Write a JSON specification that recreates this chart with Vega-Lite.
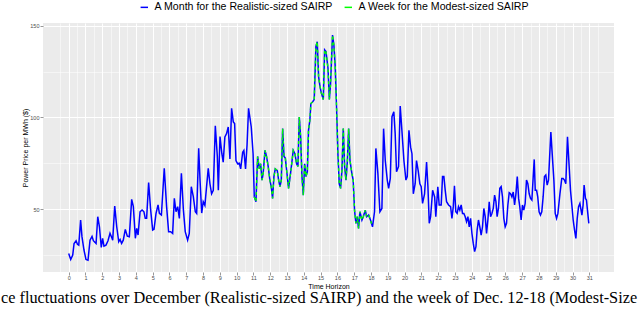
{
  "$schema": "https://vega.github.io/schema/vega-lite/v6.json",
  "width": 571,
  "height": 249,
  "autosize": {"type": "none"},
  "padding": {"left": 43, "top": 23, "right": 26, "bottom": 41},
  "background": "white",
  "config": {
    "view": {"fill": "#EBEBEB", "stroke": null},
    "font": "Liberation Sans"
  },
  "title": {
    "text": "ce fluctuations over December (Realistic-sized SAIRP) and the week of Dec. 12-18 (Modest-Size",
    "orient": "bottom",
    "anchor": "start",
    "frame": "group",
    "font": "Liberation Serif",
    "fontSize": 16.3,
    "fontWeight": "normal",
    "color": "black",
    "dx": -42,
    "offset": 1
  },
  "data": {
    "values": [
      {"day": 0.00, "price": 25.7}, {"day": 0.12, "price": 22.4}, {"day": 0.24, "price": 24.8}, {"day": 0.32, "price": 31.2},
      {"day": 0.44, "price": 32.7}, {"day": 0.52, "price": 30.8}, {"day": 0.60, "price": 30.3}, {"day": 0.71, "price": 44.0},
      {"day": 0.79, "price": 34.9}, {"day": 0.91, "price": 27.6}, {"day": 1.03, "price": 22.4}, {"day": 1.15, "price": 22.0},
      {"day": 1.27, "price": 33.0}, {"day": 1.39, "price": 35.0}, {"day": 1.47, "price": 32.7}, {"day": 1.63, "price": 31.2},
      {"day": 1.73, "price": 45.8}, {"day": 1.83, "price": 40.3}, {"day": 1.94, "price": 29.0}, {"day": 2.02, "price": 34.0},
      {"day": 2.10, "price": 29.7}, {"day": 2.22, "price": 30.3}, {"day": 2.34, "price": 32.7}, {"day": 2.46, "price": 36.7},
      {"day": 2.58, "price": 34.0}, {"day": 2.62, "price": 33.0}, {"day": 2.74, "price": 51.6}, {"day": 2.86, "price": 40.3},
      {"day": 2.98, "price": 32.1}, {"day": 3.06, "price": 33.4}, {"day": 3.15, "price": 31.2}, {"day": 3.25, "price": 33.0},
      {"day": 3.37, "price": 38.9}, {"day": 3.49, "price": 35.2}, {"day": 3.61, "price": 34.9}, {"day": 3.75, "price": 55.3},
      {"day": 3.85, "price": 51.3}, {"day": 3.97, "price": 34.0}, {"day": 4.05, "price": 39.4}, {"day": 4.13, "price": 35.8},
      {"day": 4.25, "price": 48.5}, {"day": 4.37, "price": 49.5}, {"day": 4.48, "price": 48.5}, {"day": 4.56, "price": 44.9},
      {"day": 4.64, "price": 44.9}, {"day": 4.76, "price": 64.4}, {"day": 4.88, "price": 49.5}, {"day": 5.00, "price": 38.5},
      {"day": 5.08, "price": 38.9}, {"day": 5.20, "price": 47.6}, {"day": 5.32, "price": 52.2}, {"day": 5.40, "price": 47.6},
      {"day": 5.52, "price": 46.7}, {"day": 5.69, "price": 72.3}, {"day": 5.83, "price": 51.3}, {"day": 5.95, "price": 37.6},
      {"day": 6.07, "price": 37.6}, {"day": 6.19, "price": 36.7}, {"day": 6.29, "price": 55.8}, {"day": 6.39, "price": 48.5},
      {"day": 6.49, "price": 51.3}, {"day": 6.59, "price": 44.9}, {"day": 6.71, "price": 69.5}, {"day": 6.83, "price": 49.5},
      {"day": 6.94, "price": 37.6}, {"day": 7.08, "price": 33.0}, {"day": 7.18, "price": 36.7}, {"day": 7.30, "price": 62.2},
      {"day": 7.42, "price": 56.8}, {"day": 7.54, "price": 48.5}, {"day": 7.62, "price": 47.6}, {"day": 7.74, "price": 83.2},
      {"day": 7.82, "price": 65.8}, {"day": 7.92, "price": 47.8}, {"day": 8.01, "price": 54.0}, {"day": 8.11, "price": 52.0},
      {"day": 8.21, "price": 62.2}, {"day": 8.31, "price": 72.2}, {"day": 8.41, "price": 63.8}, {"day": 8.51, "price": 58.3},
      {"day": 8.61, "price": 60.2}, {"day": 8.73, "price": 95.4}, {"day": 8.85, "price": 78.7}, {"day": 8.91, "price": 60.2},
      {"day": 9.01, "price": 89.6}, {"day": 9.12, "price": 80.2}, {"day": 9.20, "price": 75.6}, {"day": 9.30, "price": 89.4},
      {"day": 9.40, "price": 91.2}, {"day": 9.50, "price": 94.8}, {"day": 9.60, "price": 77.4}, {"day": 9.70, "price": 105.0},
      {"day": 9.80, "price": 97.6}, {"day": 9.88, "price": 96.7}, {"day": 9.96, "price": 76.5}, {"day": 10.06, "price": 74.7},
      {"day": 10.16, "price": 75.0}, {"day": 10.24, "price": 71.9}, {"day": 10.36, "price": 81.0}, {"day": 10.43, "price": 82.0},
      {"day": 10.53, "price": 71.9}, {"day": 10.62, "price": 85.0}, {"day": 10.71, "price": 105.0}, {"day": 10.87, "price": 94.8},
      {"day": 10.98, "price": 80.2}, {"day": 11.05, "price": 56.7}, {"day": 11.15, "price": 54.0}, {"day": 11.25, "price": 78.7},
      {"day": 11.35, "price": 71.9}, {"day": 11.43, "price": 74.7}, {"day": 11.51, "price": 65.8}, {"day": 11.58, "price": 69.5},
      {"day": 11.69, "price": 82.0}, {"day": 11.78, "price": 78.7}, {"day": 11.88, "price": 73.2}, {"day": 11.98, "price": 65.8},
      {"day": 12.06, "price": 62.2}, {"day": 12.14, "price": 55.8}, {"day": 12.22, "price": 67.7}, {"day": 12.30, "price": 71.9},
      {"day": 12.42, "price": 71.0}, {"day": 12.50, "price": 65.8}, {"day": 12.58, "price": 62.2}, {"day": 12.66, "price": 65.8},
      {"day": 12.74, "price": 93.9}, {"day": 12.82, "price": 78.7}, {"day": 12.90, "price": 77.8}, {"day": 12.98, "price": 71.0},
      {"day": 13.09, "price": 61.3}, {"day": 13.21, "price": 69.5}, {"day": 13.29, "price": 75.6}, {"day": 13.37, "price": 82.0},
      {"day": 13.47, "price": 80.2}, {"day": 13.57, "price": 74.7}, {"day": 13.65, "price": 73.2}, {"day": 13.73, "price": 100.2},
      {"day": 13.81, "price": 89.4}, {"day": 13.89, "price": 67.7}, {"day": 13.97, "price": 57.6}, {"day": 14.05, "price": 74.7},
      {"day": 14.13, "price": 67.7}, {"day": 14.21, "price": 70.4}, {"day": 14.28, "price": 93.0}, {"day": 14.36, "price": 98.5},
      {"day": 14.42, "price": 107.6}, {"day": 14.52, "price": 108.5}, {"day": 14.62, "price": 109.8}, {"day": 14.72, "price": 138.7},
      {"day": 14.80, "price": 141.4}, {"day": 14.88, "price": 122.3}, {"day": 14.96, "price": 117.1}, {"day": 15.04, "price": 113.4},
      {"day": 15.16, "price": 109.8}, {"day": 15.24, "price": 136.9}, {"day": 15.32, "price": 136.0}, {"day": 15.44, "price": 126.9},
      {"day": 15.52, "price": 109.8}, {"day": 15.59, "price": 118.0}, {"day": 15.71, "price": 145.0}, {"day": 15.79, "price": 139.6},
      {"day": 15.87, "price": 127.8}, {"day": 15.95, "price": 105.9}, {"day": 16.03, "price": 80.2}, {"day": 16.11, "price": 63.8},
      {"day": 16.19, "price": 61.3}, {"day": 16.27, "price": 71.0}, {"day": 16.35, "price": 93.9}, {"day": 16.43, "price": 73.2},
      {"day": 16.51, "price": 65.8}, {"day": 16.59, "price": 75.6}, {"day": 16.67, "price": 93.9}, {"day": 16.75, "price": 76.5},
      {"day": 16.86, "price": 69.5}, {"day": 16.94, "price": 65.8}, {"day": 17.02, "price": 49.4}, {"day": 17.10, "price": 42.2},
      {"day": 17.18, "price": 45.8}, {"day": 17.26, "price": 39.4}, {"day": 17.34, "price": 48.5}, {"day": 17.46, "price": 44.0},
      {"day": 17.54, "price": 45.8}, {"day": 17.66, "price": 49.4}, {"day": 17.74, "price": 45.8}, {"day": 17.86, "price": 46.7},
      {"day": 17.97, "price": 44.0}, {"day": 18.09, "price": 40.3}, {"day": 18.21, "price": 48.5}, {"day": 18.29, "price": 83.1},
      {"day": 18.41, "price": 69.5}, {"day": 18.53, "price": 48.5}, {"day": 18.65, "price": 50.3}, {"day": 18.75, "price": 93.9},
      {"day": 18.85, "price": 76.5}, {"day": 18.97, "price": 65.8}, {"day": 19.05, "price": 61.3}, {"day": 19.15, "price": 66.7},
      {"day": 19.25, "price": 100.4}, {"day": 19.36, "price": 103.1}, {"day": 19.44, "price": 91.2}, {"day": 19.52, "price": 70.4},
      {"day": 19.64, "price": 73.2}, {"day": 19.74, "price": 106.2}, {"day": 19.84, "price": 93.0}, {"day": 19.96, "price": 76.5},
      {"day": 20.08, "price": 65.8}, {"day": 20.16, "price": 67.7}, {"day": 20.26, "price": 93.0}, {"day": 20.36, "price": 83.8},
      {"day": 20.44, "price": 80.2}, {"day": 20.52, "price": 58.3}, {"day": 20.63, "price": 63.8}, {"day": 20.71, "price": 76.5},
      {"day": 20.81, "price": 71.0}, {"day": 20.91, "price": 63.8}, {"day": 20.99, "price": 62.2}, {"day": 21.07, "price": 53.1},
      {"day": 21.19, "price": 58.3}, {"day": 21.31, "price": 75.6}, {"day": 21.39, "price": 62.2}, {"day": 21.47, "price": 42.2},
      {"day": 21.55, "price": 45.8}, {"day": 21.67, "price": 60.2}, {"day": 21.79, "price": 56.6}, {"day": 21.86, "price": 45.8},
      {"day": 21.98, "price": 62.2}, {"day": 22.06, "price": 52.2}, {"day": 22.18, "price": 52.2}, {"day": 22.26, "price": 67.7},
      {"day": 22.34, "price": 67.7}, {"day": 22.42, "price": 60.2}, {"day": 22.50, "price": 54.0}, {"day": 22.62, "price": 52.2},
      {"day": 22.74, "price": 51.3}, {"day": 22.82, "price": 44.9}, {"day": 22.90, "price": 51.3}, {"day": 22.97, "price": 62.7},
      {"day": 23.05, "price": 48.5}, {"day": 23.13, "price": 47.6}, {"day": 23.21, "price": 51.3}, {"day": 23.29, "price": 49.4},
      {"day": 23.37, "price": 52.2}, {"day": 23.45, "price": 47.6}, {"day": 23.53, "price": 47.6}, {"day": 23.61, "price": 45.8},
      {"day": 23.69, "price": 43.1}, {"day": 23.77, "price": 45.8}, {"day": 23.85, "price": 40.3}, {"day": 23.93, "price": 44.9},
      {"day": 24.01, "price": 36.7}, {"day": 24.09, "price": 31.2}, {"day": 24.17, "price": 26.7}, {"day": 24.25, "price": 29.4},
      {"day": 24.32, "price": 38.5}, {"day": 24.40, "price": 44.0}, {"day": 24.48, "price": 40.3}, {"day": 24.56, "price": 35.8},
      {"day": 24.64, "price": 40.3}, {"day": 24.72, "price": 50.3}, {"day": 24.80, "price": 45.8}, {"day": 24.88, "price": 36.7},
      {"day": 24.96, "price": 44.0}, {"day": 25.04, "price": 54.0}, {"day": 25.12, "price": 45.8}, {"day": 25.20, "price": 47.6},
      {"day": 25.28, "price": 50.3}, {"day": 25.36, "price": 57.6}, {"day": 25.44, "price": 54.0}, {"day": 25.51, "price": 45.8},
      {"day": 25.59, "price": 50.3}, {"day": 25.67, "price": 61.3}, {"day": 25.75, "price": 62.2}, {"day": 25.83, "price": 56.6},
      {"day": 25.91, "price": 44.9}, {"day": 25.99, "price": 40.3}, {"day": 26.07, "price": 42.2}, {"day": 26.15, "price": 52.2},
      {"day": 26.23, "price": 58.9}, {"day": 26.31, "price": 58.3}, {"day": 26.39, "price": 56.6}, {"day": 26.47, "price": 59.3},
      {"day": 26.55, "price": 52.2}, {"day": 26.63, "price": 58.3}, {"day": 26.71, "price": 67.7}, {"day": 26.79, "price": 55.8},
      {"day": 26.86, "price": 51.3}, {"day": 26.94, "price": 44.0}, {"day": 27.02, "price": 52.2}, {"day": 27.10, "price": 49.4},
      {"day": 27.18, "price": 53.1}, {"day": 27.26, "price": 65.8}, {"day": 27.34, "price": 63.8}, {"day": 27.42, "price": 58.3},
      {"day": 27.50, "price": 55.8}, {"day": 27.58, "price": 54.9}, {"day": 27.66, "price": 67.7}, {"day": 27.72, "price": 77.1},
      {"day": 27.78, "price": 60.2}, {"day": 27.86, "price": 60.2}, {"day": 27.93, "price": 56.6}, {"day": 28.01, "price": 48.5},
      {"day": 28.09, "price": 46.7}, {"day": 28.17, "price": 48.5}, {"day": 28.25, "price": 56.6}, {"day": 28.33, "price": 67.7},
      {"day": 28.41, "price": 68.6}, {"day": 28.49, "price": 63.1}, {"day": 28.57, "price": 65.8}, {"day": 28.71, "price": 92.1},
      {"day": 28.79, "price": 80.2}, {"day": 28.89, "price": 65.8}, {"day": 28.97, "price": 47.6}, {"day": 29.05, "price": 44.9},
      {"day": 29.13, "price": 47.6}, {"day": 29.25, "price": 58.3}, {"day": 29.36, "price": 66.7}, {"day": 29.44, "price": 66.7},
      {"day": 29.52, "price": 65.8}, {"day": 29.60, "price": 63.8}, {"day": 29.70, "price": 89.4}, {"day": 29.80, "price": 73.2},
      {"day": 29.88, "price": 60.2}, {"day": 29.96, "price": 52.2}, {"day": 30.04, "price": 44.0}, {"day": 30.12, "price": 38.5},
      {"day": 30.20, "price": 33.9}, {"day": 30.28, "price": 44.9}, {"day": 30.36, "price": 51.3}, {"day": 30.44, "price": 53.1},
      {"day": 30.56, "price": 46.7}, {"day": 30.63, "price": 52.2}, {"day": 30.69, "price": 63.1}, {"day": 30.77, "price": 55.8},
      {"day": 30.83, "price": 54.9}, {"day": 30.89, "price": 49.4}, {"day": 30.97, "price": 42.2}
    ]
  },
  "encoding": {
    "x": {
      "field": "day",
      "type": "quantitative",
      "scale": {"domain": [-1.53, 32.47], "nice": false, "zero": false},
      "axis": {
        "title": "Time Horizon",
        "titleFont": "Liberation Sans",
        "titleFontSize": 7,
        "titleFontWeight": "normal",
        "titleColor": "black",
        "titleBaseline": "top",
        "titleY": 10,
        "values": [-0.5, 0, 0.5, 1, 1.5, 2, 2.5, 3, 3.5, 4, 4.5, 5, 5.5, 6, 6.5, 7, 7.5, 8, 8.5, 9, 9.5, 10, 10.5, 11, 11.5, 12, 12.5, 13, 13.5, 14, 14.5, 15, 15.5, 16, 16.5, 17, 17.5, 18, 18.5, 19, 19.5, 20, 20.5, 21, 21.5, 22, 22.5, 23, 23.5, 24, 24.5, 25, 25.5, 26, 26.5, 27, 27.5, 28, 28.5, 29, 29.5, 30, 30.5, 31, 31.5],
        "labelExpr": "datum.value % 1 ? '' : format(datum.value, 'd')",
        "labelFontSize": 5.5,
        "labelColor": "#4D4D4D",
        "labelFlush": false,
        "labelOverlap": false,
        "labelPadding": 0,
        "domain": false,
        "tickSize": 3,
        "tickWidth": 0.5,
        "tickColor": "#333333",
        "tickOpacity": {"condition": {"test": "datum.value % 1 !== 0", "value": 0}, "value": 1},
        "grid": true,
        "gridColor": "white",
        "gridOpacity": 1,
        "gridWidth": {"condition": {"test": "datum.value % 1 !== 0", "value": 0.5}, "value": 1.1}
      }
    },
    "y": {
      "field": "price",
      "type": "quantitative",
      "scale": {"domain": [15.6, 151.6], "nice": false, "zero": false},
      "axis": {
        "title": "Power Price per MWh ($)",
        "titleFont": "Liberation Sans",
        "titleFontSize": 7,
        "titleFontWeight": "normal",
        "titleColor": "black",
        "titlePadding": 1.5,
        "values": [25, 50, 75, 100, 125, 150],
        "labelExpr": "datum.value % 50 ? '' : datum.label",
        "labelFontSize": 5.5,
        "labelColor": "#4D4D4D",
        "labelFlush": false,
        "labelOverlap": false,
        "labelPadding": 1,
        "domain": false,
        "tickSize": 3,
        "tickWidth": 0.5,
        "tickColor": "#333333",
        "tickOpacity": {"condition": {"test": "datum.value % 50 !== 0", "value": 0}, "value": 1},
        "grid": true,
        "gridColor": "white",
        "gridOpacity": 1,
        "gridWidth": {"condition": {"test": "datum.value % 50 !== 0", "value": 0.5}, "value": 1.1}
      }
    }
  },
  "layer": [
    {
      "mark": {"type": "line", "strokeWidth": 1.5, "interpolate": "linear"},
      "encoding": {
        "color": {
          "datum": "A Month for the Realistic-sized SAIRP",
          "type": "nominal",
          "scale": {
            "domain": ["A Month for the Realistic-sized SAIRP", "A Week for the Modest-sized SAIRP"],
            "range": ["#0000FF", "#00FF00"]
          },
          "legend": {
            "title": null,
            "orient": "none",
            "direction": "horizontal",
            "legendX": 96,
            "legendY": -21,
            "symbolType": "stroke",
            "symbolSize": 55,
            "symbolStrokeWidth": 1.5,
            "labelFont": "Liberation Sans",
            "labelFontSize": 10.6,
            "labelLimit": 400,
            "labelColor": "black",
            "labelOffset": 5,
            "columnPadding": 8
          }
        }
      }
    },
    {
      "transform": [{"filter": "datum.day >= 11.05 && datum.day <= 18.09"}],
      "mark": {"type": "line", "strokeWidth": 1.4, "strokeDash": [3, 3], "interpolate": "linear"},
      "encoding": {
        "color": {"datum": "A Week for the Modest-sized SAIRP", "type": "nominal"}
      }
    }
  ]
}
